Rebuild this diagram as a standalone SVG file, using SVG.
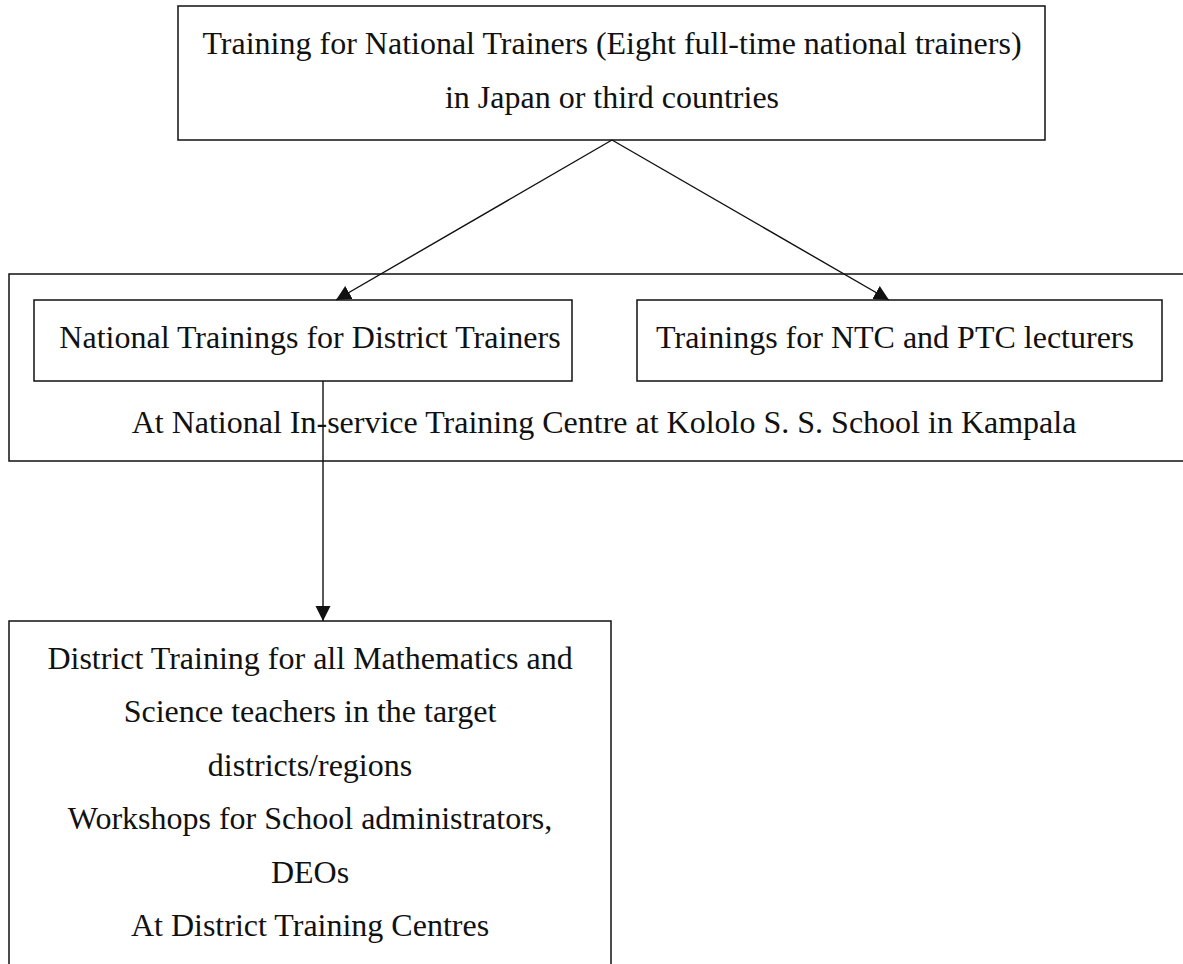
<svg xmlns="http://www.w3.org/2000/svg" width="1183" height="964" viewBox="0 0 1183 964">
<style>
.box{fill:none;stroke:#111;stroke-width:1.5}
.t{font-family:"Liberation Serif","Times New Roman",serif;font-size:32px;fill:#111;text-anchor:middle}
.c{stroke:#111;stroke-width:1.4;fill:none}
</style>
<defs>
<marker id="ah" markerWidth="18" markerHeight="18" refX="15" refY="7.5" orient="auto" markerUnits="userSpaceOnUse">
<path d="M0,0 L15,7.5 L0,15 Z" fill="#111"/>
</marker>
</defs>
<rect width="1183" height="964" fill="#fff"/>
<g id="national-trainers">
<rect class="box" x="178" y="6" width="867" height="134"/>
<text class="t" x="612" y="54">Training for National Trainers (Eight full-time national trainers)</text>
<text class="t" x="612" y="108">in Japan or third countries</text>
</g>
<g id="kololo-centre">
<rect class="box" x="9" y="274" width="1190" height="187"/>
<text class="t" x="604" y="433">At National In-service Training Centre at Kololo S. S. School in Kampala</text>
</g>
<g id="district-trainers">
<rect class="box" x="34" y="300" width="538" height="81"/>
<text class="t" x="310" y="348">National Trainings for District Trainers</text>
</g>
<g id="ntc-ptc">
<rect class="box" x="637" y="300" width="525" height="81"/>
<text class="t" x="895" y="348">Trainings for NTC and PTC lecturers</text>
</g>
<g id="district-training">
<rect class="box" x="9" y="621" width="602" height="360"/>
<text class="t" x="310" y="669">District Training for all Mathematics and</text>
<text class="t" x="310" y="722">Science teachers in the target</text>
<text class="t" x="310" y="776">districts/regions</text>
<text class="t" x="310" y="829">Workshops for School administrators,</text>
<text class="t" x="310" y="883">DEOs</text>
<text class="t" x="310" y="936">At District Training Centres</text>
</g>
<g id="connectors">
<line class="c" x1="612" y1="140" x2="336" y2="300" marker-end="url(#ah)"/>
<line class="c" x1="612" y1="140" x2="889" y2="300" marker-end="url(#ah)"/>
<line class="c" x1="323" y1="381" x2="323" y2="621" marker-end="url(#ah)"/>
</g>
</svg>
